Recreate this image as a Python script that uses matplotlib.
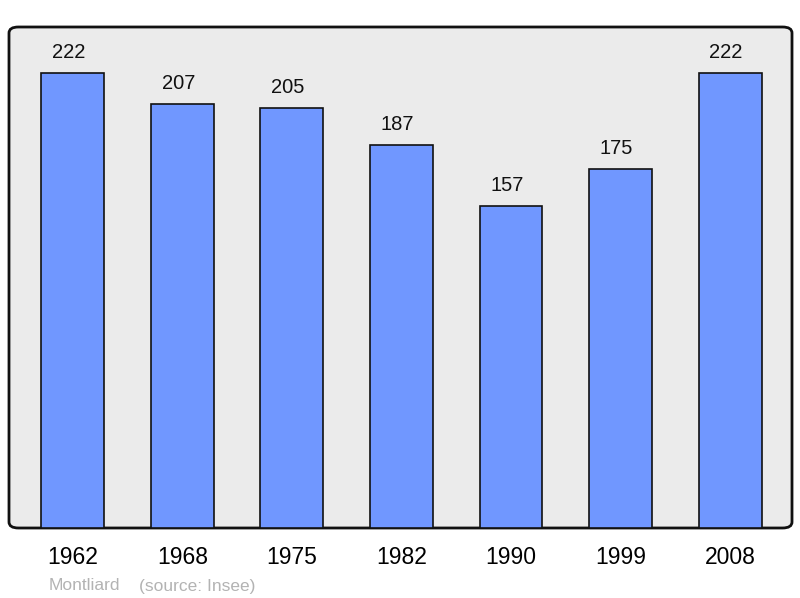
import matplotlib
matplotlib.use('Agg')
import matplotlib.pyplot as plt
from matplotlib.patches import FancyBboxPatch

# population de Montliard
annees = ['1962', '1968', '1975', '1982', '1990', '1999', '2008']
population = [222, 207, 205, 187, 157, 175, 222]

plt.rcParams['font.family'] = ['Liberation Sans', 'DejaVu Sans']

fig = plt.figure(figsize=(8, 5.98), dpi=100)
ax = fig.add_axes([9/800, 70/598, 783/800, 501/598])
ax.set_facecolor('none')

# fond gris avec coins arrondis
fond = FancyBboxPatch((0, 0), 1, 1,
                      boxstyle='round,pad=0,rounding_size=0.012',
                      transform=ax.transAxes, facecolor='#ebebeb',
                      edgecolor='#111111', linewidth=2, zorder=0,
                      clip_on=False)
ax.add_patch(fond)

x = range(len(annees))
ax.bar(x, population, width=0.575, color='#7097ff', edgecolor='#111111',
       linewidth=1.2, zorder=2)
for i, v in enumerate(population):
    ax.text(i - 0.035, v + 10, str(v), ha='center', va='center', fontsize=14.5,
            color='#111111', zorder=3)

ax.set_xlim(-0.584, 6.566)
ax.set_ylim(0, 244.5)
for s in ax.spines.values():
    s.set_visible(False)
ax.set_yticks([])
ax.set_xticks(list(x))
ax.set_xticklabels(annees, fontsize=16.5)
ax.tick_params(axis='x', length=0, pad=13)

fig.text(49/800, 1 - 586/598, 'Montliard', fontsize=12.5, color='#b3b3b3',
         va='center', ha='left')
fig.text(139/800, 1 - 586/598, '(source: Insee)', fontsize=12.5,
         color='#b3b3b3', va='center', ha='left')

fig.savefig('out.png', dpi=100)
